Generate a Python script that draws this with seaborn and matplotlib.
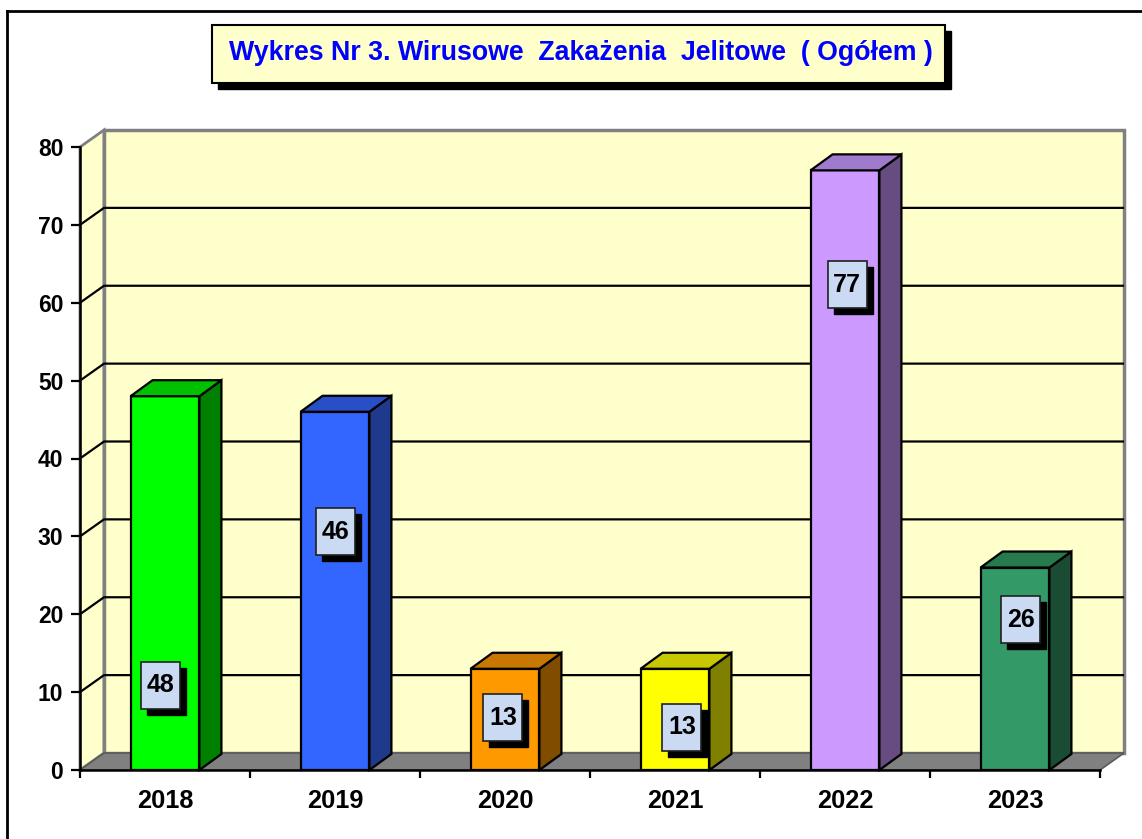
import matplotlib
matplotlib.use("Agg")
import matplotlib.pyplot as plt
from matplotlib.patches import Polygon, Rectangle
from matplotlib.lines import Line2D
import seaborn as sns
import pandas as pd

# ---- data ----
years = ["2018", "2019", "2020", "2021", "2022", "2023"]
cases = [48, 46, 13, 13, 77, 26]
y_ticks = [0, 10, 20, 30, 40, 50, 60, 70, 80]
title = "Wykres Nr 3. Wirusowe  Zakażenia  Jelitowe  ( Ogółem )"

# ---- style ----
front_colors = ["#00FF00", "#3366FF", "#FF9900", "#FFFF00", "#CC99FF", "#339966"]
side_colors = ["#008000", "#1F3A8C", "#7F4C00", "#808000", "#664C80", "#1A4C33"]
top_colors = ["#00C000", "#284FC8", "#C87800", "#C8C800", "#A07ACC", "#267A4E"]
label_dx = [-0.024, 0.0, -0.012, 0.041, 0.012, 0.035]   # label offsets (category units)
label_y = [10.9, 30.6, 6.7, 5.5, 62.3, 19.3]            # label vertical positions

W, H = 1142, 839
fig = plt.figure(figsize=(W / 100, H / 100), dpi=100)
plt.rcParams["font.family"] = ["Liberation Sans", "DejaVu Sans"]

ax = fig.add_axes([80 / W, 1 - 770 / H, 1020 / W, 623 / H])
ax.set_xlim(-0.5, 5.5)
ax.set_ylim(0, 80)
ax.patch.set_visible(False)

PX = 170.0           # px per category
PY = 623.0 / 80.0    # px per unit
WDX, WDY = 24 / PX, 17 / PY   # wall depth
BDX, BDY = 22 / PX, 16 / PY   # bar depth

# walls
ax.add_patch(Polygon([(-0.5, 0), (-0.5, 80), (-0.5 + WDX, 80 + WDY), (-0.5 + WDX, WDY)],
                     closed=True, fc="#FFFFCC", ec="#808080", lw=2, clip_on=False, zorder=0.1))
ax.add_patch(Rectangle((-0.5 + WDX, WDY), 6, 80, fc="#FFFFCC", ec="#808080", lw=2.5,
                       clip_on=False, zorder=0.1))
for v in y_ticks[1:-1]:
    ax.plot([-0.5, -0.5 + WDX, 5.5 + WDX], [v, v + WDY, v + WDY], color="black", lw=1.6,
            clip_on=False, zorder=0.2, solid_capstyle="butt")
# floor
ax.add_patch(Polygon([(-0.5, 0), (5.5, 0), (5.5 + WDX, WDY), (-0.5 + WDX, WDY)], closed=True,
                     fc="#808080", ec="#5A5A5A", lw=1.2, clip_on=False, zorder=0.3))

df = pd.DataFrame({"year": years, "cases": cases})
sns.barplot(data=df, x="year", y="cases", hue="year", palette=front_colors, width=0.405,
            edgecolor="black", linewidth=1.6, legend=False, ax=ax, saturation=1, zorder=2)

for i, p in enumerate(ax.patches[-len(years):]):
    x0, w, h = p.get_x(), p.get_width(), p.get_height()
    ax.add_patch(Polygon([(x0 + w, 0), (x0 + w + BDX, BDY), (x0 + w + BDX, h + BDY), (x0 + w, h)],
                         closed=True, fc=side_colors[i], ec="black", lw=1.6, zorder=2, clip_on=False))
    ax.add_patch(Polygon([(x0, h), (x0 + BDX, h + BDY), (x0 + w + BDX, h + BDY), (x0 + w, h)],
                         closed=True, fc=top_colors[i], ec="black", lw=1.6, zorder=2, clip_on=False))
    # label box with shadow
    cx = i + label_dx[i]
    cy = label_y[i]
    bw, bh = 39 / PX, 47 / PY
    ax.add_patch(Rectangle((cx - bw / 2 + 6 / PX, cy - bh / 2 - 6 / PY), bw, bh, fc="black",
                           ec="black", lw=1, zorder=3))
    ax.add_patch(Rectangle((cx - bw / 2, cy - bh / 2), bw, bh, fc="#CADAF2", ec="#202020",
                           lw=1.2, zorder=4))
    ax.text(cx, cy, str(cases[i]), ha="center", va="center", fontsize=18, fontweight="bold",
            zorder=5)

# axes
for s in ["top", "right"]:
    ax.spines[s].set_visible(False)
ax.spines["left"].set_linewidth(1.8)
ax.spines["bottom"].set_linewidth(1.8)
ax.spines["left"].set_zorder(2.5)
ax.spines["bottom"].set_zorder(2.5)
ax.set_yticks(y_ticks)
ax.set_yticklabels([str(v) for v in y_ticks], fontsize=16.5, fontweight="bold")
ax.tick_params(axis="y", direction="out", length=6.5, width=1.6, pad=5.5)
ax.set_xticks(range(len(years)))
ax.set_xticklabels(years, fontsize=18.3, fontweight="bold")
ax.set_xticks([k - 0.5 for k in range(len(years) + 1)], minor=True)
ax.tick_params(axis="x", which="major", length=0, pad=14)
ax.tick_params(axis="x", which="minor", direction="out", length=6, width=1.6)
ax.set_xlabel("")
ax.set_ylabel("")

# title box with shadow
bx0, by0, bx1, by1 = 212, 25, 945, 83
fig.add_artist(Rectangle(((bx0 + 6) / W, 1 - (by1 + 6) / H), (bx1 - bx0) / W, (by1 - by0) / H,
                         transform=fig.transFigure, fc="black", ec="black", lw=1))
fig.add_artist(Rectangle((bx0 / W, 1 - by1 / H), (bx1 - bx0) / W, (by1 - by0) / H,
                         transform=fig.transFigure, fc="#FFFFCC", ec="black", lw=1.5))
fig.text((bx0 + bx1) / 2 / W + 2 / W, 1 - 53 / H, title, ha="center", va="center", color="#0000FF",
         fontsize=19.3, fontweight="bold")

# outer frame
fig.add_artist(Line2D([7 / W, 7 / W], [0, 1 - 11 / H], transform=fig.transFigure, color="black", lw=2))
fig.add_artist(Line2D([7 / W, 1], [1 - 11 / H, 1 - 11 / H], transform=fig.transFigure, color="black", lw=2))

fig.savefig("out.png", dpi=100, facecolor="white")
